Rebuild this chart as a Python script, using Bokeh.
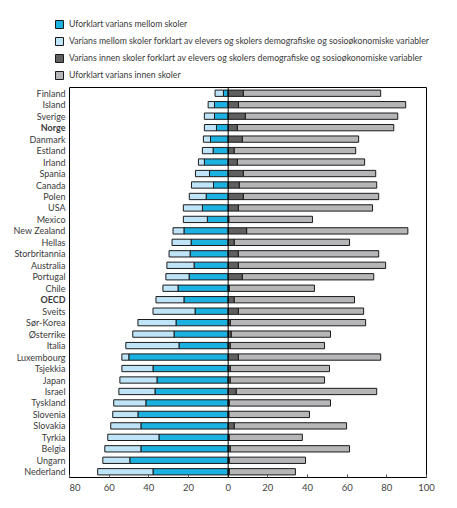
import numpy as np
from bokeh.plotting import figure
from bokeh.layouts import column, row
from bokeh.models import (ColumnDataSource, FactorRange, Range1d, FixedTicker, Span,
                          Legend, LegendItem)
from bokeh.core.properties import value
from bokeh.embed import file_html
from bokeh.resources import INLINE

countries = ["Finland", "Island", "Sverige", "Norge", "Danmark", "Estland", "Irland", "Spania",
             "Canada", "Polen", "USA", "Mexico", "New Zealand", "Hellas", "Storbritannia",
             "Australia", "Portugal", "Chile", "OECD", "Sveits", "Sør-Korea", "Østerrike",
             "Italia", "Luxembourg", "Tsjekkia", "Japan", "Israel", "Tyskland", "Slovenia",
             "Slovakia", "Tyrkia", "Belgia", "Ungarn", "Nederland"]
# Uforklart varians mellom skoler
between_unexplained = [2.4, 6.9, 6.9, 5.9, 8.9, 7.6, 12.0, 9.4, 7.4, 11.1, 13.0, 10.5, 22.3, 18.7,
                       19.2, 17.2, 19.7, 25.3, 22.3, 16.7, 26.3, 27.3, 24.8, 50.1, 37.9, 35.9,
                       36.9, 41.5, 45.5, 44.0, 34.9, 44.0, 49.6, 37.9]
# Varians mellom skoler forklart
between_explained = [4.2, 3.2, 5.1, 6.1, 3.6, 5.4, 3.0, 7.1, 11.1, 8.5, 9.6, 12.1, 5.5, 9.6, 10.6,
                     13.7, 11.7, 7.6, 14.1, 21.2, 19.2, 20.8, 26.8, 3.5, 15.7, 18.7, 18.2, 16.2,
                     12.7, 15.2, 25.8, 18.2, 13.6, 27.9]
# Varians innen skoler forklart
within_explained = [7.6, 5.2, 8.6, 4.6, 7.1, 3.0, 4.6, 7.6, 5.6, 7.6, 5.1, 0.3, 9.3, 3.0, 5.1, 5.1,
                    7.1, 0.5, 3.0, 5.1, 1.0, 1.5, 1.0, 5.1, 1.0, 1.0, 4.0, 0.5, 0.3, 3.0, 0.5, 1.0,
                    0.5, 0.5]
# Uforklart varians innen skoler
within_unexplained = [69.3, 84.3, 76.9, 78.9, 58.7, 61.3, 64.2, 66.8, 69.3, 68.3, 67.7, 42.2, 81.3,
                      58.2, 70.8, 74.3, 66.3, 43.0, 60.7, 63.2, 68.3, 50.1, 47.6, 71.8, 50.1, 47.6,
                      70.9, 51.1, 40.7, 56.7, 36.9, 60.2, 38.5, 33.4]
bold_rows = ["Norge", "OECD"]
tick_values = [-80, -60, -40, -20, 0, 20, 40, 60, 80, 100]

legend_labels = [
    "Uforklart varians mellom skoler",
    "Varians mellom skoler forklart av elevers og skolers demografiske og sosioøkonomiske variabler",
    "Varians innen skoler forklart av elevers og skolers demografiske og sosioøkonomiske variabler",
    "Uforklart varians innen skoler",
]
colors = ["#1bb1e1", "#bfe4f7", "#606060", "#b6b6b8"]

FONT = "Lato"
TXT = "#3a3a3a"
OUTLINE = "#1a1a1a"

bu = np.array(between_unexplained)
be = np.array(between_explained)
we = np.array(within_explained)
wu = np.array(within_unexplained)

src = ColumnDataSource(dict(
    country=countries,
    zero=np.zeros(len(countries)),
    bu_end=-bu,
    be_end=-(bu + be),
    we_end=we,
    wu_end=we + wu,
    style=["bold" if c in bold_rows else "normal" for c in countries],
    one=np.ones(len(countries)),
))

yr = FactorRange(*countries[::-1], range_padding=0)

# ---- main chart ----
main = figure(width=379, height=412, output_backend="svg", toolbar_location=None,
              y_range=yr, x_range=Range1d(tick_values[0], tick_values[-1]),
              min_border_left=0, min_border_right=22, min_border_top=1, min_border_bottom=21)
main.grid.visible = False
main.outline_line_color = "black"
main.outline_line_width = 1
main.yaxis.visible = False

H = 0.55
main.hbar(y="country", left="zero", right="bu_end", height=H, source=src,
          fill_color=colors[0], line_color=OUTLINE, line_width=1)
main.hbar(y="country", left="bu_end", right="be_end", height=H, source=src,
          fill_color=colors[1], line_color=OUTLINE, line_width=1)
main.hbar(y="country", left="we_end", right="wu_end", height=H, source=src,
          fill_color=colors[3], line_color=OUTLINE, line_width=1)
main.hbar(y="country", left="zero", right="we_end", height=H, source=src,
          fill_color=colors[2], line_color=OUTLINE, line_width=1)
main.add_layout(Span(location=0, dimension="height", line_color="black", line_width=1))

ax = main.xaxis[0]
ax.ticker = FixedTicker(ticks=tick_values)
ax.major_label_overrides = {v: str(abs(v)) for v in tick_values}
ax.axis_line_color = "black"
ax.major_tick_in = 3
ax.major_tick_out = 0
ax.minor_tick_line_color = None
ax.major_tick_line_color = "#555555"
ax.major_label_text_font = FONT
ax.major_label_text_font_size = "9.5px"
ax.major_label_text_color = "#444444"
ax.major_label_standoff = 6

# ---- country labels ----
lab = figure(width=69, height=412, output_backend="svg", toolbar_location=None,
             y_range=yr, x_range=Range1d(0, 1),
             min_border_left=0, min_border_right=0, min_border_top=1, min_border_bottom=21)
lab.axis.visible = False
lab.grid.visible = False
lab.outline_line_color = None
lab.text(x="one", y="country", text="country", source=src, x_offset=-4,
         text_align="right", text_baseline="middle", text_font=value(FONT),
         text_font_size="9px", text_color=TXT, text_font_style="style")

# ---- legend ----
leg = figure(width=448, height=86, output_backend="svg", toolbar_location=None,
             x_range=Range1d(0, 1), y_range=Range1d(0, 1),
             min_border_left=0, min_border_right=0, min_border_top=0, min_border_bottom=0)
leg.axis.visible = False
leg.grid.visible = False
leg.outline_line_color = None
empty = ColumnDataSource(dict(y=[np.nan], left=[np.nan], right=[np.nan]))
items = []
for lbl, col in zip(legend_labels, colors):
    r = leg.hbar(y="y", left="left", right="right", height=1, source=empty,
                 fill_color=col, line_color=OUTLINE, line_width=1)
    items.append(LegendItem(label=lbl, renderers=[r]))
legend = Legend(items=items, location=(54, 6))
legend.border_line_color = None
legend.background_fill_alpha = 0
legend.padding = 0
legend.margin = 0
legend.spacing = 6
legend.glyph_width = 10
legend.glyph_height = 10
legend.label_height = 11
legend.label_standoff = 5
legend.label_text_font = FONT
legend.label_text_font_size = "8.7px"
legend.label_text_color = TXT
leg.add_layout(legend, "center")

layout = column(leg, row(lab, main, spacing=0), spacing=0)
open("out.html", "w").write(file_html(layout, INLINE))
